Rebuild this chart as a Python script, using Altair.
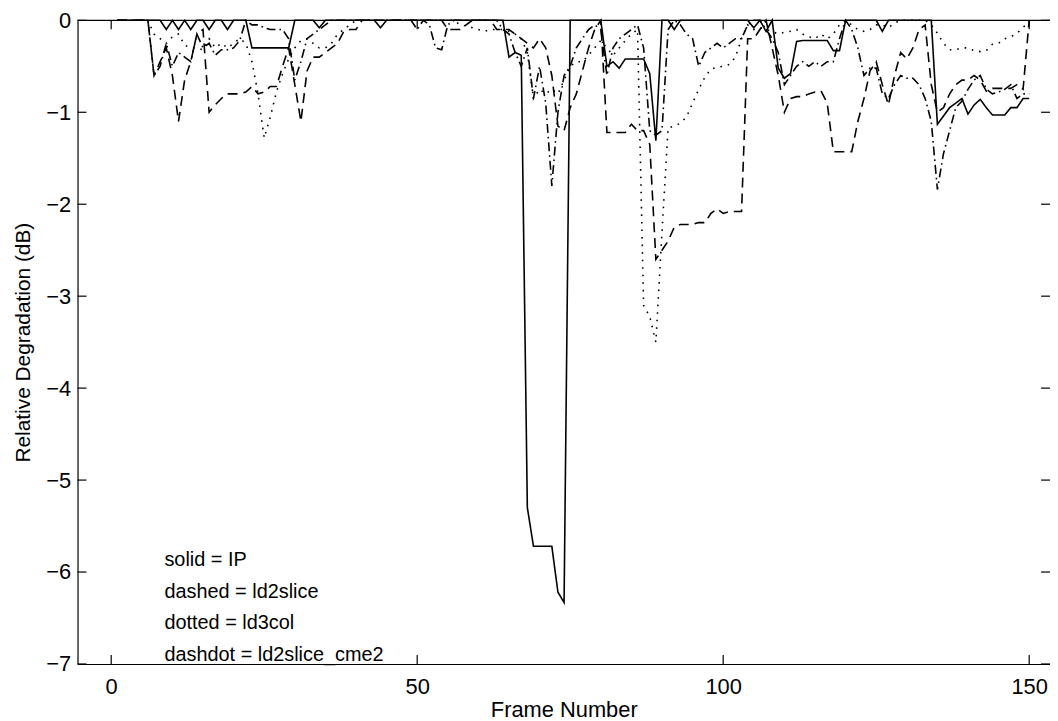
import altair as alt
import pandas as pd

# ---------------- data (frames 1..150) ----------------
frames = list(range(1, 151))

ip = [
    0, 0, 0, 0, 0, 0, 0, 0, -0.1, 0,
    -0.1, 0, -0.1, 0, 0, -0.1, 0, 0, -0.1, 0,
    0, 0, -0.3, -0.3, -0.3, -0.3, -0.3, -0.3, -0.3, 0,
    0, 0, 0, -0.08, 0, 0, 0, 0, 0, 0,
    0, 0, 0, -0.08, 0, 0, 0, 0, 0, 0,
    0, 0, 0, 0, 0, 0, 0, 0, 0, 0,
    0, 0, 0, 0, -0.4, -0.35, -0.38, -5.3, -5.72, -5.72,
    -5.72, -5.72, -6.22, -6.33, 0, 0, 0, 0, 0, 0,
    -0.5, -0.45, -0.52, -0.42, -0.42, -0.42, -0.42, -0.58, -1.31, 0,
    0, -0.1, 0, 0, 0, 0, 0, 0, 0, 0,
    0, 0, 0, 0, -0.08, 0, -0.12, 0, -0.52, -0.63,
    -0.58, -0.23, -0.22, -0.22, -0.22, -0.22, -0.22, -0.33, -0.33, 0,
    0, 0, 0, 0, 0, -0.12, 0, 0, 0, 0,
    0, 0, 0, 0, -1.13, -1.04, -0.95, -0.9, -0.85, -1.02,
    -0.92, -0.86, -0.95, -1.03, -1.03, -1.03, -0.95, -0.95, -0.85, -0.85,
]

ld2slice = [
    0, 0, 0, 0, 0, 0, -0.6, -0.45, -0.3, -0.6,
    -1.1, -0.65, -0.45, -0.15, -0.1, -1.0, -0.92, -0.85, -0.8, -0.8,
    -0.8, -0.78, -0.72, -0.8, -0.78, -0.72, -0.72, -0.5, -0.3, -0.7,
    -1.1, -0.55, -0.4, -0.4, -0.35, -0.3, -0.25, -0.12, -0.1, -0.1,
    0, 0, 0, 0, 0, 0, 0, 0, 0, 0,
    0, 0, 0, 0, -0.1, -0.1, -0.1, -0.05, 0, 0,
    0, 0, -0.1, -0.1, -0.1, -0.15, -0.2, -0.25, -0.3, -0.2,
    -0.3, -0.6, -1.15, -1.2, -0.95, -0.8, -0.55, -0.3, -0.1, 0,
    -1.22, -1.22, -1.22, -1.22, -1.13, -1.2, -1.2, -1.35, -2.6, -2.5,
    -2.4, -2.25, -2.22, -2.22, -2.22, -2.2, -2.2, -2.1, -2.05, -2.1,
    -2.08, -2.08, -2.08, -0.2, -0.2, -0.1, 0, -0.3, -0.6, -1.0,
    -0.85, -0.83, -0.83, -0.8, -0.78, -0.77, -0.9, -1.43, -1.43, -1.43,
    -1.43, -1.1, -0.85, -0.55, -0.45, -0.7, -0.92, -0.6, -0.35, -0.42,
    -0.3, -0.1, -0.05, -0.7, -1.0, -0.95, -0.8, -0.7, -0.65, -0.65,
    -0.6, -0.65, -0.77, -0.74, -0.74, -0.74, -0.74, -0.7, -0.75, 0,
]

ld3col = [
    0, 0, 0, 0, 0, 0, -0.15, -0.2, -0.25, -0.18,
    -0.15, -0.27, -0.3, -0.3, -0.32, -0.2, -0.3, -0.25, -0.3, -0.25,
    -0.2, -0.25, -0.45, -0.8, -1.28, -1.05, -0.78, -0.58, -0.42, -0.3,
    -0.22, -0.2, -0.25, -0.3, -0.3, -0.25, -0.15, -0.1, -0.05, 0,
    0, 0, 0, 0, 0, 0, 0, 0, 0, 0,
    0, 0, 0, 0, 0, 0, -0.05, -0.06, -0.08, -0.1,
    -0.12, -0.1, -0.1, -0.1, -0.12, -0.15, -0.2, -0.35, -0.85, -0.75,
    -0.8, -0.75, -0.8, -0.65, -0.5, -0.45, -0.45, -0.38, -0.3, -0.22,
    -0.3, -0.38, -0.3, -0.22, -0.15, -0.1, -3.1, -3.22, -3.5, -2.3,
    -1.17, -1.15, -1.12, -1.05, -0.9, -0.75, -0.62, -0.53, -0.51, -0.5,
    -0.48, -0.4, -0.2, -0.05, -0.1, -0.08, -0.1, -0.12, -0.15, -0.13,
    -0.12, -0.1, -0.15, -0.18, -0.2, -0.15, -0.2, -0.15, -0.05, 0,
    -0.05, -0.1, -0.12, -0.1, -0.05, -0.05, -0.08, -0.03, 0, 0,
    0, 0, 0, -0.05, -0.14, -0.25, -0.32, -0.32, -0.3, -0.3,
    -0.33, -0.34, -0.33, -0.26, -0.25, -0.2, -0.18, -0.14, -0.08, 0,
]

ld2slice_cme2 = [
    0, 0, 0, 0, 0, 0, -0.6, -0.5, -0.25, -0.5,
    -0.35, -0.4, -0.45, -0.15, -0.3, -0.25, -0.38, -0.32, -0.32, -0.3,
    -0.22, 0, -0.05, -0.05, -0.08, -0.1, -0.1, -0.1, -0.2, -0.65,
    -0.45, -0.2, -0.15, -0.1, -0.05, 0, 0, 0, 0, 0,
    0, 0, 0, 0, 0, 0, 0, 0, 0, -0.1,
    0, -0.05, -0.3, -0.32, -0.05, 0, 0, 0, 0, 0,
    0, 0, 0, -0.1, -0.15, -0.35, -0.5, -0.3, -0.85, -0.5,
    -0.9, -1.8, -1.0, -0.6, -0.5, -0.3, -0.2, -0.1, -0.05, -0.1,
    -0.6, -0.3, -0.2, -0.15, -0.1, -0.05, -0.3, -1.2, -1.25, -1.2,
    -0.1, 0, -0.05, -0.15, -0.2, -0.5, -0.35, -0.3, -0.25, -0.3,
    -0.25, -0.2, -0.2, -0.05, 0, 0, -0.1, -0.2, -0.35, -0.7,
    -0.6, -0.5, -0.45, -0.5, -0.45, -0.5, -0.45, -0.45, -0.2, 0,
    -0.1, -0.3, -0.6, -0.52, -0.52, -0.8, -0.85, -0.7, -0.6, -0.63,
    -0.63, -0.7, -0.85, -1.1, -1.84, -1.45, -1.2, -0.95, -0.88, -0.75,
    -0.65, -0.6, -0.75, -0.8, -0.78, -0.75, -0.7, -0.85, -0.8, -0.8,
]

x_ticks = [0, 50, 100, 150]
y_ticks = [0, -1, -2, -3, -4, -5, -6, -7]

note_lines = ["solid = IP", "dashed = ld2slice", "dotted = ld3col", "dashdot = ld2slice_cme2"]
note_y = [-5.87, -6.22, -6.56, -6.9]
note_x = [8.7, 8.7, 8.7, 8.7]

# ---------------- chart ----------------
W, H = 979, 648
FONT = "Liberation Sans"
TICK = 9

xscale = alt.Scale(domain=[-5.5, 153.4], nice=False, zero=False)
yscale = alt.Scale(domain=[-7, 0], nice=False, zero=False)

xaxis = alt.Axis(values=x_ticks, ticks=False, tickSize=0, grid=False, domain=True,
                 domainColor="black", domainWidth=1.2, labelFont=FONT, labelFontSize=22,
                 labelColor="black", labelPadding=13, labelFlush=False,
                 title="Frame Number", titleFont=FONT, titleFontSize=22,
                 titleFontWeight="normal", titleColor="black", titlePadding=2)
yaxis = alt.Axis(values=y_ticks, ticks=False, tickSize=0, grid=False, domain=True,
                 domainColor="black", domainWidth=1.2, labelFont=FONT, labelFontSize=22,
                 labelColor="black", labelPadding=7, labelFlush=False,
                 title="Relative Degradation (dB)", titleFont=FONT, titleFontSize=21,
                 titleFontWeight="normal", titleColor="black", titlePadding=12)

X = lambda f: alt.X(f, scale=xscale, axis=xaxis)
Y = lambda f: alt.Y(f, scale=yscale, axis=yaxis)

series = [
    ("IP", ip, []),
    ("ld2slice", ld2slice, [10, 6]),
    ("ld3col", ld3col, [1.6, 6]),
    ("ld2slice_cme2", ld2slice_cme2, [9, 4, 1.6, 4]),
]

layers = []
for name, vals, dash in series:
    df = pd.DataFrame({"frame": frames, "value": vals})
    kw = dict(color="black", strokeWidth=1.6, strokeCap="butt", strokeJoin="miter")
    if dash:
        kw["strokeDash"] = dash
    layers.append(alt.Chart(df).mark_line(**kw).encode(
        x=X("frame:Q"), y=Y("value:Q"), order="frame:Q"))

xt = pd.DataFrame({"v": x_ticks})
yt = pd.DataFrame({"v": y_ticks})
rule_kw = dict(color="black", strokeWidth=1.2)

bottom_ticks = alt.Chart(xt).mark_rule(**rule_kw).encode(
    x=X("v:Q"), y=alt.value(H), y2=alt.value(H - TICK))
top_ticks = alt.Chart(xt).mark_rule(**rule_kw).encode(
    x=X("v:Q"), y=alt.value(0), y2=alt.value(TICK))
left_ticks = alt.Chart(yt).mark_rule(**rule_kw).encode(
    y=Y("v:Q"), x=alt.value(0), x2=alt.value(TICK))
right_ticks = alt.Chart(yt).mark_rule(**rule_kw).encode(
    y=Y("v:Q"), x=alt.value(W), x2=alt.value(W - TICK))
top_spine = alt.Chart(xt.head(1)).mark_rule(**rule_kw).encode(
    x=alt.value(0), x2=alt.value(W), y=alt.value(0))

notes = alt.Chart(pd.DataFrame({"x": note_x, "y": note_y, "t": note_lines})).mark_text(
    align="left", baseline="middle", font=FONT, fontSize=20, color="black"
).encode(x=X("x:Q"), y=Y("y:Q"), text="t:N")

chart = alt.layer(
    *layers, bottom_ticks, top_ticks, left_ticks, right_ticks, top_spine, notes
).properties(
    width=W, height=H,
    autosize=alt.AutoSizeParams(type="none"),
    padding={"left": 70, "top": 10, "right": 0, "bottom": 55},
    background="white",
).configure_view(stroke=None)

chart.save("out.html", embed_options={"renderer": "svg", "actions": False})
